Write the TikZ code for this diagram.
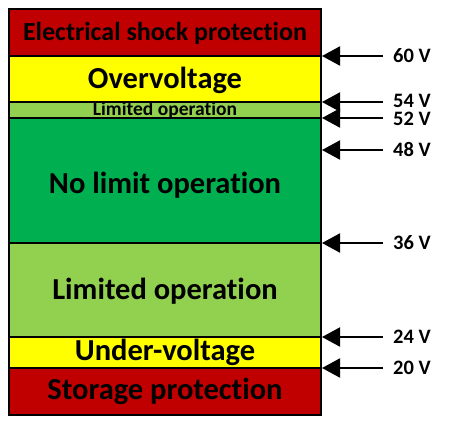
\documentclass[tikz,border=0pt]{standalone}
\usepackage{fontspec}
\setmainfont{Carlito}[BoldFont={* Bold}, Ligatures={NoCommon}]
\usetikzlibrary{arrows.meta}
\definecolor{dred}{HTML}{C00000}
\definecolor{yel}{HTML}{FFFF00}
\definecolor{lgreen}{HTML}{92D050}
\definecolor{dgreen}{HTML}{00B050}
\tikzset{
  band/.style={draw=black, line width=2pt},
  btext/.style={font=\fontsize{#1}{#1}\selectfont\bfseries, inner sep=0pt},
  vlab/.style={font=\fontsize{20.5}{20.5}\selectfont\bfseries, inner sep=0pt, anchor=west, text height=13.5pt, text depth=0pt},
  arr/.style={line width=2pt, -{Triangle[length=18pt,width=19pt]}}
}
\begin{document}
\begin{tikzpicture}[x=1pt,y=1pt]
\useasboundingbox (0,0) rectangle (454,424);
% bands (y = 424 - pixel y)
\fill[dred]   (9,368) rectangle (321,415);
\fill[yel]    (9,322) rectangle (321,368);
\fill[lgreen] (9,306) rectangle (321,322);
\fill[dgreen] (9,181) rectangle (321,306);
\fill[lgreen] (9,87)  rectangle (321,181);
\fill[yel]    (9,56)  rectangle (321,87);
\fill[dred]   (9,9)   rectangle (321,56);
% texts
\node[btext=26] (t1) at (165,391) {Electrical shock protection};
\node[btext=30.5] (t2) at (165,344) {Overvoltage};
\node[btext=19.5] (t3) at (165,314) {Limited operation};
\node[btext=30.5] (t4) at (165,239) {No limit operation};
\node[btext=30.5] (t5) at (165,133) {Limited operation};
\node[btext=30.5] (t6) at (165,72)  {Under-voltage};
\node[btext=30.5] (t7) at (165,33)  {Storage protection};
\draw[line width=2pt] (9,368) -- (321,368);
\draw[line width=2pt] (9,322) -- (321,322);
\draw[line width=2pt] (9,306) -- (321,306);
\draw[line width=2pt] (9,181) -- (321,181);
\draw[line width=2pt] (9,87) -- (321,87);
\draw[line width=2pt] (9,56) -- (321,56);
\draw[band] (9,9) rectangle (321,415);
% boundary points on right edge
\coordinate (b60) at (322,368);
\coordinate (b54) at (322,322);
\coordinate (b52) at (322,306);
\coordinate (b48) at (322,274);
\coordinate (b36) at (322,181);
\coordinate (b24) at (322,87);
\coordinate (b20) at (322,56);
% labels
\node[vlab] (l60) at (393,368) {60 V};
\node[vlab] (l54) at (393,323.5) {54 V};
\node[vlab] (l52) at (393,305.5) {52 V};
\node[vlab] (l48) at (393,274) {48 V};
\node[vlab] (l36) at (393,181) {36 V};
\node[vlab] (l24) at (393,87)  {24 V};
\node[vlab] (l20) at (393,56)  {20 V};
% arrows
\foreach \v in {60,54,52,48,36,24,20}{
  \draw[arr] ([xshift=-10pt]l\v.west |- b\v) -- (b\v);
}
\end{tikzpicture}
\end{document}
